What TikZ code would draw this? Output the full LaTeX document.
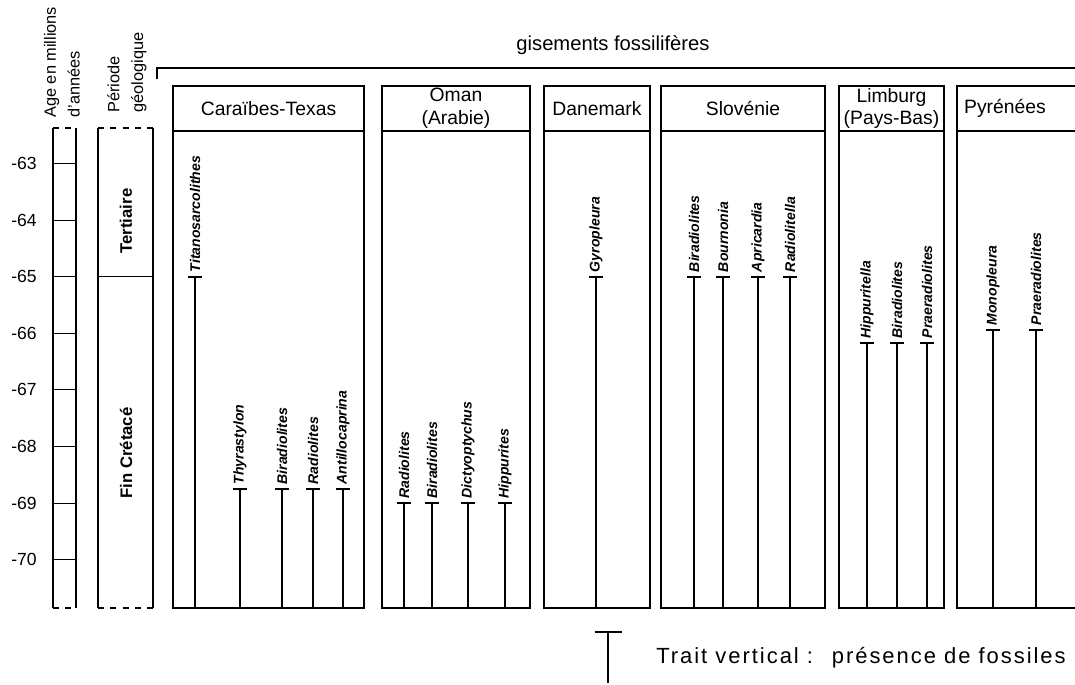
\documentclass[tikz,border=0pt]{standalone}
\usepackage{fontspec}
\setmainfont{Liberation Sans}
\begin{document}
\begin{tikzpicture}[x=0.02cm,y=-0.02cm,
  declare function={ay(\a)=163.5-(63+\a)*56.6;},
  frame/.style={draw=black,line width=0.6pt},
  dashedge/.style={draw=black,line width=0.6pt,dash pattern=on 3.5pt off 3.5pt},
  fossil/.style={line width=1.2pt},
  taxon/.style={rotate=90,anchor=west,inner sep=1pt,font=\fontsize{8}{9}\selectfont\bfseries\itshape},
  site/.style={font=\fontsize{11}{13}\selectfont,align=center,inner sep=0},
  period/.style={rotate=90,inner sep=0,font=\fontsize{9.5}{10}\selectfont\bfseries},
  head/.style={rotate=90,align=left,anchor=west,inner sep=0,font=\fontsize{9.3}{13.5}\selectfont},
  agelbl/.style={anchor=east,inner sep=0,font=\fontsize{10}{11}\selectfont}]
\useasboundingbox (0,0) rectangle (1075,684);
\def\yt{128}
\def\yb{608}
% column headings, left
\node[head] (hage) at (62,118) {Age en millions\\d'années};
\node[head] (hper) at (127,113) {Période\\géologique};
% age scale
\draw[frame] (53,\yt) -- (53,\yb) (76,\yt) -- (76,\yb);
\draw[dashedge] (53,\yt) -- (76,\yt) (53,\yb) -- (76,\yb);
\foreach \a in {63,...,70}{
  \draw[frame] (53,{ay(-\a)}) -- (76,{ay(-\a)});
  \node[agelbl] (age\a) at (37,{ay(-\a)}) {-\a};
}
% geological periods
\draw[frame] (98,\yt) -- (98,\yb) (153,\yt) -- (153,\yb);
\draw[dashedge] (98,\yt) -- (153,\yt) (98,\yb) -- (153,\yb);
\draw[frame] (98,{ay(-65)}) -- (153,{ay(-65)});
\node[period] (tert) at (126,221) {Tertiaire};
\node[period] (cret) at (126,453) {Fin Crétacé};
% bracket over the sites
\node[inner sep=0,font=\fontsize{11.5}{13}\selectfont] (gis) at (613,45) {gisements fossilifères};
\coordinate (brk) at (157,79);
\draw[frame] (brk) |- (1076,68);
% sites
\foreach \xa/\xb/\name in {173/364/Caraïbes-Texas,382/530/{Oman\\(Arabie)},
    544/650/Danemark,661/825/Slovénie,839/944/{Limburg\\(Pays-Bas)}}{
  \draw[frame] (\xa,86) rectangle (\xb,\yb);
  \draw[frame] (\xa,131) -- (\xb,131);
  \node[site] (s\xa) at ({(\xa+\xb)/2},108.5) {\name};
}
\draw[frame] (1078,86) -| (957,\yb) -- (1078,\yb);
\draw[frame] (957,131) -- (1078,131);
\node[site] (s957) at (1005,108.5) {Pyrénées};
% fossil ranges: x / first appearance / genus
\coordinate (base) at (0,\yb);
\foreach \x/\a/\name in {195/-65/Titanosarcolithes,240/-68.75/Thyrastylon,
    282/-68.75/Biradiolites,313/-68.75/Radiolites,343/-68.75/Antillocaprina,
    404/-69/Radiolites,432/-69/Biradiolites,468/-69/Dictyoptychus,505/-69/Hippurites,
    596/-65/Gyropleura,
    694/-65/Biradiolites,723/-65/Bournonia,758/-65/Apricardia,790/-65/Radiolitella,
    867/-66.17/Hippuritella,897/-66.17/Biradiolites,927/-66.17/Praeradiolites,
    993/-65.94/Monopleura,1036/-65.94/Praeradiolites}{
  \coordinate (f\x) at (\x,{ay(\a)});
  \draw[fossil] ([xshift=-0.14cm]f\x) -- ([xshift=0.14cm]f\x);
  \draw[fossil] (f\x) -- (f\x |- base);
  \node[taxon] (n\x) at ([yshift=0.05cm]f\x) {\name};
}
% legend
\coordinate (lgt) at (608,632);
\coordinate (lgb) at (608,683);
\draw[fossil] ([xshift=-0.27cm]lgt) -- ([xshift=0.27cm]lgt);
\draw[fossil] (lgt) -- (lgb);
\node[anchor=west,inner sep=0,font=\fontsize{12.5}{14}\selectfont\addfontfeature{LetterSpace=9}] (lgtxt) at (656,658) {Trait vertical :~ présence de fossiles};
\end{tikzpicture}
\end{document}
